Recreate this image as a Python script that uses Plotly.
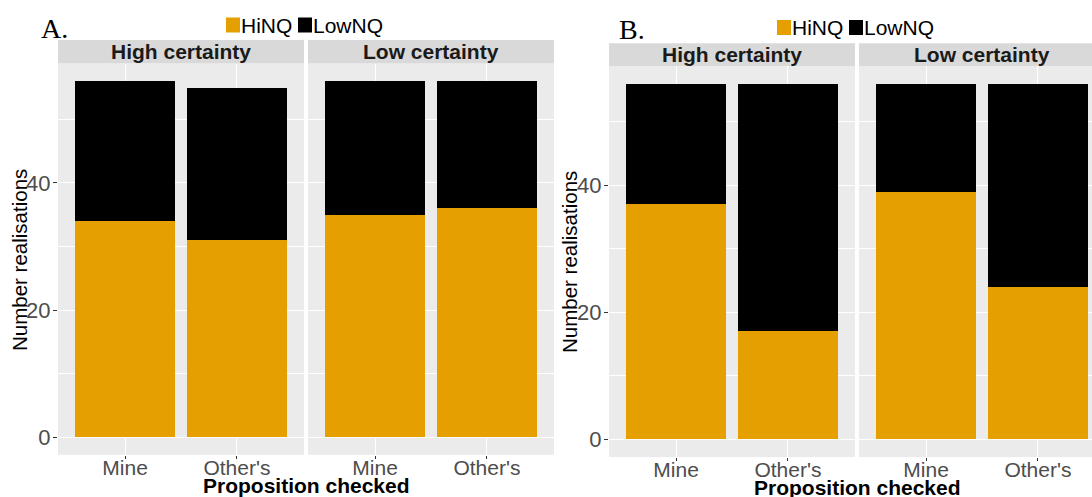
import plotly.graph_objects as go

# ---------------- data ----------------
categories = ["Mine", "Other's"]
facets = ["High certainty", "Low certainty"]
series = ["HiNQ", "LowNQ"]
colors = {"HiNQ": "#E69F00", "LowNQ": "#000000"}

A_hinq_high = [34, 31]
A_lownq_high = [22, 24]
A_hinq_low = [35, 36]
A_lownq_low = [21, 20]

B_hinq_high = [37, 17]
B_lownq_high = [19, 39]
B_hinq_low = [39, 24]
B_lownq_low = [17, 32]

y_ticks = [0, 20, 40]
y_minor = [10, 30, 50]
panel_labels = ["A.", "B."]
y_title = "Number realisations"
x_title = "Proposition checked"

# ---------------- layout helpers ----------------
W, H = 1092, 497
def px(x):
    return x / W
def py(y):
    return 1 - y / H

FONT = "Liberation Sans, Arial, sans-serif"
SERIF = "Liberation Serif, Times New Roman, serif"

unit = 246 / 2.2
subplots = [
    dict(x0=58, x1=304, top=63.6, bottom=454.8, strip=40.0, data=(A_hinq_high, A_lownq_high), facet=0, yaxis_labels=True),
    dict(x0=308, x1=554, top=63.6, bottom=454.8, strip=40.0, data=(A_hinq_low, A_lownq_low), facet=1, yaxis_labels=False),
    dict(x0=609, x1=855, top=65.9, bottom=457.1, strip=43.3, data=(B_hinq_high, B_lownq_high), facet=0, yaxis_labels=True),
    dict(x0=859, x1=1092, top=65.9, bottom=457.1, strip=43.3, data=(B_hinq_low, B_lownq_low), facet=1, yaxis_labels=False),
]

fig = go.Figure()
layout = dict(
    width=W, height=H,
    margin=dict(l=0, r=0, t=0, b=0),
    paper_bgcolor="white",
    plot_bgcolor="#EBEBEB",
    barmode="stack",
    bargap=0.1,
    showlegend=False,
    font=dict(family=FONT, size=21, color="#4D4D4D"),
)
shapes = []
annotations = []

for i, sp in enumerate(subplots):
    n = "" if i == 0 else str(i + 1)
    xa, ya = "x" + n, "y" + n
    hinq, lownq = sp["data"]
    for name, vals in zip(series, (hinq, lownq)):
        fig.add_trace(go.Bar(
            x=categories, y=vals, name=name, xaxis=xa, yaxis=ya,
            marker=dict(color=colors[name], line=dict(width=0)),
            width=0.9, showlegend=False,
        ))
    full_right = sp["x0"] + 2.2 * unit
    visible_units = (sp["x1"] - sp["x0"]) / unit
    layout["xaxis" + n] = dict(
        domain=[px(sp["x0"]), px(sp["x1"])],
        anchor=ya,
        range=[-0.6, -0.6 + visible_units],
        type="category",
        showgrid=True, gridcolor="white", gridwidth=1.1,
        zeroline=False, showline=False,
        ticks="outside", ticklen=3, tickcolor="#333333", tickwidth=1,
        ticklabelstandoff=-9,
        tickfont=dict(family=FONT, size=21, color="#4D4D4D"),
        fixedrange=True,
    )
    layout["yaxis" + n] = dict(
        domain=[py(sp["bottom"]), py(sp["top"])],
        anchor=xa,
        range=[-2.8, 58.8],
        tickvals=y_ticks,
        showticklabels=sp["yaxis_labels"],
        ticks="outside" if sp["yaxis_labels"] else "",
        ticklen=4, tickcolor="#333333", tickwidth=1,
        ticklabelstandoff=-2,
        showgrid=True, gridcolor="white", gridwidth=1.1,
        minor=dict(tickvals=y_minor, showgrid=True, gridcolor="white", gridwidth=0.55, ticks=""),
        zeroline=False, showline=False,
        tickfont=dict(family=FONT, size=22, color="#4D4D4D"),
        fixedrange=True,
    )
    shapes.append(dict(type="rect", xref="paper", yref="paper",
                       x0=px(sp["x0"]), x1=px(min(full_right, W)),
                       y0=py(sp["top"]), y1=py(sp["strip"]),
                       fillcolor="#D9D9D9", line=dict(width=0), layer="below"))
    annotations.append(dict(
        text="<b>%s</b>" % facets[sp["facet"]], xref="paper", yref="paper",
        x=px((sp["x0"] + full_right) / 2), y=py((sp["strip"] + sp["top"]) / 2),
        xanchor="center", yanchor="middle", showarrow=False,
        font=dict(family=FONT, size=21, color="#1A1A1A"),
    ))

panels = [
    dict(label_x=39, label_y=28, ytitle_x=19, ytitle_y=260, xtitle_x=306, xtitle_y=485.5,
         leg_x=226, leg_y=25),
    dict(label_x=617, label_y=29, ytitle_x=569, ytitle_y=262, xtitle_x=857, xtitle_y=487.5,
         leg_x=777, leg_y=27.5),
]
for k, p in enumerate(panels):
    annotations.append(dict(text=panel_labels[k], xref="paper", yref="paper",
                            x=px(p["label_x"]), y=py(p["label_y"]), xanchor="left", yanchor="middle",
                            showarrow=False, font=dict(family=SERIF, size=28, color="#000000")))
    annotations.append(dict(text=y_title, xref="paper", yref="paper", textangle=-90,
                            x=px(p["ytitle_x"]), y=py(p["ytitle_y"]), xanchor="center", yanchor="middle",
                            showarrow=False, font=dict(family=FONT, size=20.5, color="#000000")))
    annotations.append(dict(text="<b>%s</b>" % x_title, xref="paper", yref="paper",
                            x=px(p["xtitle_x"]), y=py(p["xtitle_y"]), xanchor="center", yanchor="middle",
                            showarrow=False, borderpad=0,
                            font=dict(family=FONT, size=21, color="#000000")))
    x = p["leg_x"]
    for name in series:
        shapes.append(dict(type="rect", xref="paper", yref="paper",
                           x0=px(x), x1=px(x + 14), y0=py(p["leg_y"] + 7.5), y1=py(p["leg_y"] - 7.5),
                           fillcolor=colors[name], line=dict(width=0)))
        annotations.append(dict(text=name, xref="paper", yref="paper",
                                x=px(x + 14), y=py(p["leg_y"]), xanchor="left", yanchor="middle",
                                showarrow=False, borderpad=0,
                                font=dict(family=FONT, size=21, color="#000000")))
        x += 14 + (58 if name == "HiNQ" else 0)

layout["shapes"] = shapes
layout["annotations"] = annotations
fig.update_layout(**layout)
fig.write_html(
    "out.html",
    config={"displayModeBar": False},
    post_script="document.body.style.margin='0';document.body.style.overflow='hidden';",
)
